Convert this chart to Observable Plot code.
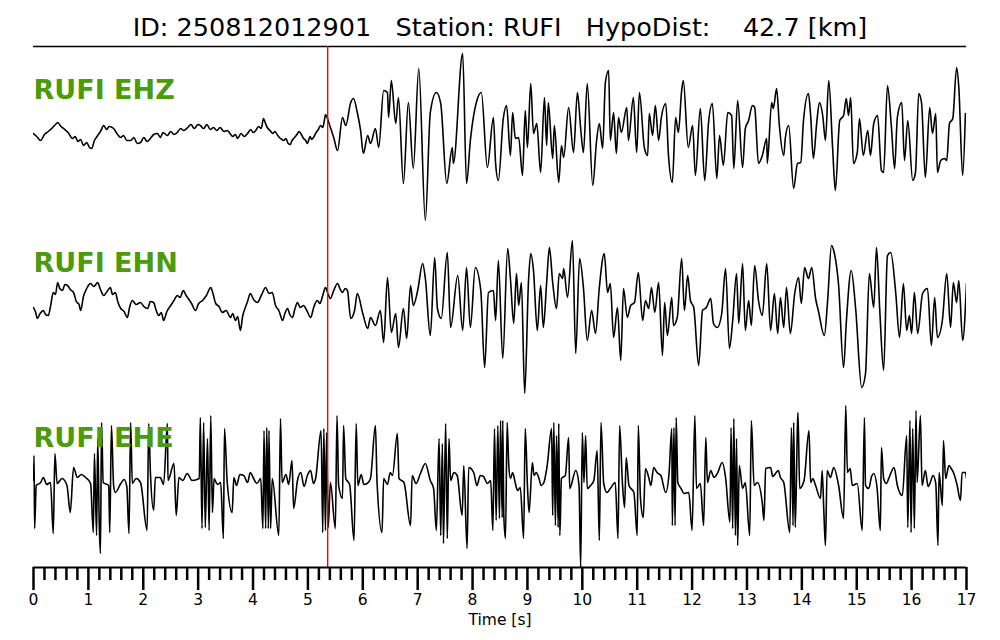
<!DOCTYPE html>
<html><head><meta charset="utf-8">
<script src="https://cdn.jsdelivr.net/npm/d3@7"></script>
<script src="https://cdn.jsdelivr.net/npm/@observablehq/plot@0.6"></script>
<style>body{margin:0;background:#fff;} #chart svg{display:block;}</style>
</head><body><div id="chart"></div>
<script>
const titleText = "ID: 250812012901   Station: RUFI   HypoDist:    42.7 [km]";
const stations = ["RUFI EHZ", "RUFI EHN", "RUFI EHE"];
const pickTime = 5.36;
const majorTicks = d3.range(0, 18);
const minorTicks = d3.range(0, 86).filter(i => i % 5 !== 0).map(i => i / 5);

// [time s, amplitude]
const ehz = [[0,-3],[0.06,-6],[0.13,-10],[0.2,-4],[0.27,-1],[0.35,3],[0.4,6],[0.44,8],[0.5,4],[0.55,2],[0.63,-2],[0.71,-8],[0.76,-6],[0.81,-11],[0.86,-9],[0.91,-15],[0.97,-12],[1.02,-17],[1.06,-18],[1.11,-10],[1.17,-5],[1.22,-1],[1.28,5],[1.33,1],[1.38,4],[1.46,2],[1.52,-3],[1.59,-7],[1.64,-5],[1.7,-10],[1.77,-10],[1.83,-7],[1.89,-13],[1.95,-12],[2.01,-7],[2.07,-11],[2.13,-8],[2.19,-4],[2.26,-3],[2.31,-7],[2.36,-2],[2.44,-5],[2.5,-1],[2.56,-4],[2.62,-2],[2.68,2],[2.74,0],[2.81,3],[2.87,6],[2.93,2],[3,6],[3.04,5],[3.1,2],[3.16,6],[3.22,1],[3.28,3],[3.34,0],[3.4,3],[3.47,-1],[3.53,0],[3.58,-3],[3.63,-6],[3.68,-4],[3.72,-8],[3.78,-3],[3.84,-6],[3.9,-3],[3.96,1],[4,-2],[4.05,0],[4.1,4],[4.15,2],[4.19,12],[4.22,8],[4.26,3],[4.31,0],[4.36,-3],[4.4,-1],[4.45,-5],[4.5,-8],[4.56,-10],[4.6,-8],[4.64,-13],[4.68,-14],[4.71,-10],[4.74,-8],[4.8,-4],[4.84,-1],[4.87,-3],[4.92,-8],[4.96,-10],[4.99,-13],[5.04,-6],[5.07,-9],[5.1,-7],[5.15,-2],[5.19,1],[5.23,5],[5.27,3],[5.3,10],[5.32,16],[5.35,13],[5.38,8],
[5.47,-7],[5.54,-20],[5.63,13],[5.69,5],[5.78,28],[5.83,32],[5.9,18],[5.96,0],[6.01,-23],[6.09,-5],[6.14,-13],[6.23,2],[6.29,-17],[6.38,40],[6.45,38],[6.47,13],[6.52,50],[6.6,7],[6.65,33],[6.74,-53],[6.83,28],[6.92,-38],[7.02,62],[7.14,-90],[7.23,18],[7.34,38],[7.42,27],[7.53,-53],[7.63,-17],[7.65,-33],[7.82,77],[7.89,-53],[7.96,-10],[8.09,32],[8.16,38],[8.27,-37],[8.38,13],[8.42,-33],[8.47,-50],[8.56,12],[8.62,25],[8.69,-25],[8.73,18],[8.78,-8],[8.84,-7],[8.91,-45],[8.96,20],[9,-17],[9.06,47],[9.11,-3],[9.17,7],[9.24,-42],[9.31,33],[9.35,-15],[9.38,28],[9.46,-28],[9.49,5],[9.57,-52],[9.62,-15],[9.66,-27],[9.75,23],[9.84,-22],[9.91,38],[9.97,2],[10.02,-22],[10.09,47],[10.19,-55],[10.26,-10],[10.31,7],[10.37,-18],[10.42,48],[10.48,60],[10.51,-10],[10.57,18],[10.62,-23],[10.66,13],[10.71,-2],[10.81,23],[10.84,-10],[10.93,33],[10.99,-22],[11.04,38],[11.13,-17],[11.19,-25],[11.22,17],[11.28,-5],[11.33,25],[11.39,-10],[11.44,13],[11.52,27],[11.57,-25],[11.64,-52],[11.7,13],[11.75,-2],[11.81,40],[11.84,50],[11.93,-17],[12.01,5],[12.06,-45],[12.15,22],[12.23,-50],[12.3,8],[12.37,27],[12.45,-48],[12.5,-5],[12.57,-35],[12.65,18],[12.72,15],[12.76,-38],[12.83,30],[12.92,-37],[12.97,2],[13.03,10],[13.1,25],[13.14,23],[13.21,-33],[13.28,-25],[13.36,-8],[13.37,-33],[13.45,28],[13.48,22],[13.54,42],[13.59,5],[13.67,-25],[13.7,-7],[13.76,5],[13.85,-58],[13.92,-33],[13.98,-32],[14.03,10],[14.12,37],[14.16,15],[14.21,-28],[14.27,7],[14.32,28],[14.38,15],[14.43,-10],[14.49,50],[14.56,-17],[14.61,-60],[14.69,10],[14.76,15],[14.81,32],[14.85,15],[14.89,33],[14.94,-33],[15.01,-22],[15.05,12],[15.12,-25],[15.2,0],[15.25,-25],[15.31,7],[15.38,15],[15.45,-40],[15.49,-42],[15.56,45],[15.63,5],[15.69,-38],[15.74,13],[15.82,28],[15.87,-30],[15.93,10],[16.02,-50],[16.07,-42],[16.13,37],[16.18,28],[16.25,-47],[16.33,23],[16.38,-3],[16.44,17],[16.47,-42],[16.53,-30],[16.6,-28],[16.64,-30],[16.69,7],[16.75,12],[16.82,63],[16.86,43],[16.93,-45],[16.98,17]];

const ehn = [[0,-9],[0.04,-14],[0.07,-20],[0.12,-15],[0.18,-12],[0.22,-16],[0.27,-17],[0.31,-8],[0.36,6],[0.4,4],[0.44,16],[0.48,10],[0.53,8],[0.57,14],[0.62,13],[0.67,9],[0.73,6],[0.78,-3],[0.83,-6],[0.86,-12],[0.91,2],[0.97,10],[1,13],[1.04,15],[1.1,12],[1.17,16],[1.22,9],[1.28,3],[1.34,7],[1.4,11],[1.44,4],[1.49,6],[1.54,-4],[1.59,-10],[1.65,-13],[1.71,-19],[1.75,-9],[1.8,-2],[1.87,-6],[1.95,-4],[2.01,-8],[2.08,-10],[2.13,-3],[2.19,-4],[2.23,-11],[2.28,-17],[2.33,-14],[2.37,-22],[2.43,-13],[2.5,-7],[2.56,-2],[2.62,3],[2.67,1],[2.73,8],[2.78,3],[2.82,0],[2.88,-5],[2.95,-12],[3.01,-5],[3.08,-2],[3.15,3],[3.23,11],[3.27,5],[3.32,-5],[3.38,-8],[3.44,-14],[3.51,-12],[3.59,-19],[3.63,-15],[3.68,-22],[3.72,-18],[3.77,-32],[3.81,-18],[3.86,-9],[3.9,-3],[3.95,5],[4.01,-1],[4.08,-4],[4.15,3],[4.23,11],[4.29,5],[4.35,6],[4.41,-7],[4.47,-12],[4.54,-22],[4.58,-15],[4.63,-10],[4.67,-16],[4.72,-19],[4.76,-11],[4.81,-4],[4.86,-9],[4.92,-7],[4.98,-12],[5.05,-19],[5.11,-8],[5.17,-2],[5.22,-5],[5.27,3],[5.32,11],[5.37,4],[5.41,0],
[5.47,8],[5.54,15],[5.59,9],[5.63,6],[5.68,10],[5.72,8],[5.78,-20],[5.85,-12],[5.9,5],[6,-15],[6.09,-30],[6.14,-19],[6.23,-27],[6.32,-12],[6.38,-44],[6.45,21],[6.52,-34],[6.6,-15],[6.65,-49],[6.74,-10],[6.8,-40],[6.87,13],[6.92,-7],[7,8],[7.09,35],[7.14,20],[7.23,-37],[7.31,41],[7.36,-10],[7.43,-20],[7.54,46],[7.6,-29],[7.73,23],[7.82,-32],[7.89,31],[7.96,-29],[8.05,31],[8.15,8],[8.22,-69],[8.29,6],[8.38,8],[8.42,-22],[8.47,38],[8.55,-60],[8.64,50],[8.69,20],[8.75,-25],[8.8,25],[8.84,-7],[8.89,16],[8.95,-95],[9.02,18],[9.06,45],[9.11,28],[9.18,-32],[9.24,13],[9.29,-29],[9.35,16],[9.4,51],[9.46,16],[9.53,-10],[9.58,25],[9.64,20],[9.66,30],[9.73,1],[9.82,58],[9.88,-55],[9.95,40],[10.02,11],[10.09,-42],[10.17,-12],[10.24,-35],[10.31,11],[10.4,45],[10.46,6],[10.51,15],[10.57,-39],[10.64,-9],[10.7,-62],[10.75,10],[10.82,-19],[10.88,-7],[10.95,-4],[11.02,26],[11.1,-22],[11.15,-2],[11.21,-10],[11.26,11],[11.32,-14],[11.39,16],[11.46,-57],[11.5,-4],[11.55,-37],[11.63,1],[11.66,-27],[11.73,-19],[11.81,40],[11.86,-12],[11.92,23],[11.97,-2],[12.03,-9],[12.12,-67],[12.19,-12],[12.26,-9],[12.34,0],[12.39,-25],[12.46,-29],[12.54,-15],[12.61,30],[12.68,-50],[12.74,-22],[12.81,25],[12.85,-25],[12.92,35],[12.97,-32],[13.03,-2],[13.08,-27],[13.14,33],[13.21,-2],[13.28,-17],[13.36,35],[13.43,-32],[13.5,5],[13.56,-35],[13.61,1],[13.67,-29],[13.72,11],[13.79,-35],[13.87,5],[13.94,21],[13.99,-5],[14.05,31],[14.12,20],[14.18,31],[14.25,0],[14.3,-12],[14.41,-37],[14.47,-2],[14.54,53],[14.58,48],[14.67,13],[14.76,-69],[14.81,-24],[14.9,28],[14.98,-10],[15.09,-89],[15.16,-75],[15.23,25],[15.31,-9],[15.36,51],[15.42,-12],[15.49,-72],[15.56,43],[15.62,46],[15.71,6],[15.78,-39],[15.85,15],[15.91,-32],[15.96,-17],[16,-35],[16.05,6],[16.11,-35],[16.2,5],[16.29,10],[16.36,-47],[16.42,1],[16.47,-39],[16.56,-22],[16.64,25],[16.71,-29],[16.76,16],[16.82,-4],[16.86,18],[16.93,-42],[17,15]];

const ehe = [[0,0],[0.01,25],[0.02,-48],[0.05,-5],[0.13,-2],[0.18,3],[0.24,-4],[0.31,-2],[0.36,-53],[0.39,27],[0.43,-3],[0.52,2],[0.61,-5],[0.67,-32],[0.73,13],[0.8,3],[0.87,6],[0.95,3],[1.04,-3],[1.09,-52],[1.11,27],[1.15,-55],[1.17,42],[1.2,-48],[1.22,-73],[1.24,58],[1.27,-2],[1.37,-5],[1.39,-52],[1.42,55],[1.46,-5],[1.49,-12],[1.59,-3],[1.65,1],[1.7,-6],[1.74,-53],[1.77,58],[1.8,-3],[1.87,2],[1.95,-2],[2.07,-50],[2.1,57],[2.13,8],[2.19,-30],[2.22,3],[2.31,3],[2.37,-4],[2.44,57],[2.45,0],[2.56,17],[2.6,-35],[2.65,3],[2.72,0],[2.8,7],[2.89,0],
[3.02,2],[3.04,63],[3.07,-48],[3.1,58],[3.13,-47],[3.17,42],[3.2,-50],[3.23,65],[3.26,-32],[3.29,2],[3.35,-4],[3.41,-2],[3.46,-58],[3.48,52],[3.53,-2],[3.62,-32],[3.65,3],[3.7,-5],[3.76,6],[3.83,5],[3.9,-2],[3.95,8],[4.01,2],[4.07,-3],[4.14,2],[4.18,-48],[4.2,50],[4.23,-48],[4.25,53],[4.28,-48],[4.29,50],[4.32,-48],[4.35,2],[4.47,-55],[4.5,62],[4.53,-2],[4.6,6],[4.65,-4],[4.71,20],[4.74,-28],[4.81,0],[4.87,8],[4.93,-6],[4.99,5],[5.05,10],[5.1,-3],[5.14,2],[5.24,50],[5.27,-52],[5.29,52],[5.32,-50],[5.34,48],[5.37,-47],[5.41,-2],[5.5,-48],[5.53,65],[5.56,-5],[5.63,-18],[5.65,55],[5.69,2],[5.76,-4],[5.84,-60],[5.88,57],[5.91,-5],[5.97,6],[6.02,-4],[6.08,-3],[6.14,2],[6.23,55],[6.26,-2],[6.35,-52],[6.38,2],[6.45,-4],[6.5,8],[6.54,5],[6.63,47],[6.66,2],[6.75,-2],[6.87,-45],[6.9,5],[6.97,-3],[7.05,7],[7.14,17],[7.23,0],[7.29,-8],
[7.34,-50],[7.39,42],[7.42,-55],[7.45,37],[7.47,-63],[7.51,57],[7.54,-58],[7.57,42],[7.6,0],[7.66,8],[7.72,5],[7.81,-35],[7.84,15],[7.9,-68],[7.93,13],[8.02,8],[8.08,-5],[8.14,5],[8.2,4],[8.27,-3],[8.33,0],[8.37,-50],[8.4,52],[8.43,-40],[8.46,55],[8.49,-38],[8.51,60],[8.54,-37],[8.55,60],[8.57,-36],[8.6,-58],[8.63,58],[8.66,15],[8.69,2],[8.73,8],[8.78,-3],[8.82,-10],[8.87,-7],[8.93,-58],[8.96,52],[9,-5],[9.03,-32],[9.09,18],[9.12,5],[9.16,8],[9.21,2],[9.25,-5],[9.3,-2],[9.36,15],[9.44,52],[9.46,-35],[9.48,58],[9.51,-45],[9.53,45],[9.56,-47],[9.57,57],[9.59,-55],[9.62,2],[9.69,5],[9.75,43],[9.77,-8],[9.88,10],[9.94,-5],[9.97,-87],[10,48],[10.03,-2],[10.06,45],[10.09,-8],[10.15,-5],[10.21,0],[10.27,30],[10.31,-60],[10.34,58],[10.39,-3],[10.45,-12],[10.51,-8],[10.6,-2],[10.65,-58],[10.68,55],[10.73,-2],[10.77,-27],[10.8,23],[10.85,-5],[10.94,-12],[11,-55],[11.02,55],[11.06,-18],[11.11,-37],[11.15,12],[11.21,3],[11.25,-5],[11.3,13],[11.36,8],[11.43,5],[11.52,-12],[11.58,7],
[11.63,52],[11.64,-45],[11.67,53],[11.69,-45],[11.71,63],[11.74,-2],[11.8,-8],[11.85,-13],[11.94,-12],[12,-50],[12.05,65],[12.08,-8],[12.15,-3],[12.21,-45],[12.25,43],[12.28,-2],[12.34,10],[12.4,3],[12.46,7],[12.55,18],[12.61,3],[12.69,-42],[12.71,53],[12.74,-48],[12.76,62],[12.79,-55],[12.81,42],[12.83,-65],[12.86,15],[12.92,-8],[12.97,-2],[13.05,-55],[13.08,60],[13.13,-5],[13.19,-2],[13.28,-23],[13.31,-40],[13.34,12],[13.43,13],[13.47,4],[13.52,7],[13.57,10],[13.61,3],[13.67,-2],[13.78,-52],[13.81,53],[13.84,-45],[13.85,58],[13.88,-47],[13.92,55],[13.93,68],[13.96,-8],[14.04,0],[14.13,50],[14.16,-2],[14.2,2],[14.25,-5],[14.34,-18],[14.37,10],[14.4,-30],[14.43,-65],[14.46,10],[14.52,3],[14.58,13],[14.67,-5],[14.76,-38],[14.8,75],[14.83,8],[14.88,12],[14.92,-5],[15.01,-3],[15.1,-50],[15.14,63],[15.16,-5],[15.22,-8],[15.27,4],[15.31,7],[15.37,-7],[15.43,-50],[15.45,33],[15.49,2],[15.54,-3],[15.59,3],[15.68,13],[15.74,-5],[15.83,-15],[15.91,45],[15.93,-47],[15.97,60],[15.99,-52],[16.02,52],[16.05,-48],[16.08,70],[16.1,-2],[16.16,65],[16.19,-5],[16.25,10],[16.3,-6],[16.34,-2],[16.39,5],[16.44,-3],[16.48,-65],[16.5,8],[16.56,-25],[16.58,40],[16.62,2],[16.68,15],[16.72,12],[16.77,7],[16.83,-5],[16.89,-20],[16.92,8],[16.98,8],[17,2]];

// layout (not data): vertical placement of each trace inside the frame
const traceOffsets = [437, 269, 87];
const labelPos = [477, 304, 129];
const series = [ehz, ehn, ehe];

const rows = [];
series.forEach((s, i) => s.forEach(([t, a]) => rows.push({trace: stations[i], t, v: a + traceOffsets[i]})));

const nb = s => s.replace(/ /g, "\u00a0");

const chart = Plot.plot({
  width: 1000,
  height: 640,
  marginTop: 46,
  marginBottom: 73,
  marginLeft: 33,
  marginRight: 34,
  x: {domain: [0, 17]},
  y: {domain: [0, 521], axis: null},
  style: {fontFamily: "DejaVu Sans", background: "white", color: "black"},
  marks: [
    Plot.ruleY([521], {stroke: "black", strokeWidth: 1.5}),
    Plot.line(rows, {x: "t", y: "v", z: "trace", stroke: "black", strokeWidth: 1.6, curve: "monotone-x", clip: true}),
    Plot.ruleX([pickTime], {stroke: "#ff0000", strokeWidth: 1.4}),
    Plot.text(stations, {x: 0, y: (d, i) => labelPos[i], text: d => d, textAnchor: "start", lineAnchor: "middle", fill: "#4b9b0c", fontWeight: "bold", fontSize: 27}),
    Plot.axisX({ticks: minorTicks, tickSize: 13, tickFormat: () => "", strokeWidth: 2.5, label: null}),
    Plot.axisX({ticks: majorTicks, tickSize: 23, tickPadding: 3, fontSize: 15.5, strokeWidth: 2.5, label: null, tickFormat: d => String(d)}),
    Plot.ruleY([0], {stroke: "black", strokeWidth: 2}),
    Plot.text([nb(titleText)], {frameAnchor: "top", dy: -19, text: d => d, fontSize: 25.5, lineAnchor: "middle"}),
    Plot.text(["Time [s]"], {frameAnchor: "bottom", dy: 53, text: d => d, fontSize: 15.5, lineAnchor: "middle"})
  ]
});
document.getElementById("chart").appendChild(chart);
</script>
</body></html>
